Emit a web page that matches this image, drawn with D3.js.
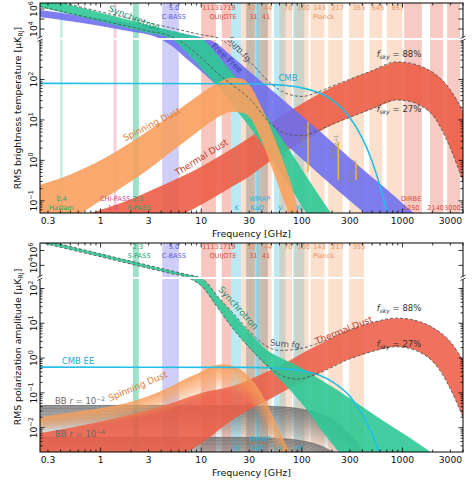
<!DOCTYPE html>
<html><head><meta charset="utf-8">
<script src="https://cdn.jsdelivr.net/npm/d3@7"></script>
<style>body{margin:0;background:#fff}svg{display:block}text{font-family:"DejaVu Sans",sans-serif}</style>
</head><body><svg id="c" width="474" height="481"></svg>
<script>
// ---------------- DATA ----------------
const xTickLabels = [0.3, 1, 3, 10, 30, 100, 300, 1000, 3000];

// observation bands [GHz]
const planckLo = [25, 39, 60, 85, 122, 183, 295, 470, 700];
const planckHi = [35, 50, 80, 117, 168, 255, 415, 630, 1000];
const planckLabels = ["30", "44", "70", "100", "143", "217", "353", "545", "857"];
const planckFreq = [30, 44, 70, 100, 143, 217, 353, 545, 857];
const wmapLo = [20, 28, 35, 53, 82];
const wmapHi = [25, 37, 46, 69, 106];
const quijoteLo = [10, 12, 16, 18, 28, 36];
const quijoteHi = [12, 14, 18, 20, 34, 46];
const dirbeLo = [1040, 1880, 2780];
const dirbeHi = [1560, 2540, 3740];
const dirbeFreq = [1250, 2140, 3000];
const spassBand = [2.1, 2.4];
const cbassBand = [4.1, 6.0];
const chipassBand = [1.35, 1.44];
const haslamBand = [0.398, 0.418];

// ---- temperature (top) ----
const syncTFreq = [0.25, 0.5, 1, 2, 3, 5, 7, 10, 15, 20, 24, 30, 40, 50, 70, 100, 120, 150, 200];
const syncTHi = [1.4e7, 2.5e6, 4.2e5, 7.1e4, 2.5e4, 6.9e3, 2.95e3, 1.17e3, 360, 150, 90, 45, 18, 8, 2.4, 0.6, 0.3, 0.13, 0.045];
const syncTLo = [1.6e6, 3e5, 5.6e4, 1.07e4, 4.1e3, 1.2e3, 490, 190, 61, 27, 14, 7, 2.6, 1.1, 0.3, 0.075, 0.035, 0.015, 0.004];

const ffTFreq = [0.25, 0.5, 1, 2, 3.6, 5, 7, 10, 14, 20, 30, 50, 70, 100, 150, 200, 300, 500, 700, 1000, 1500];
const ffTHi = [7.9e5, 3e5, 1.1e5, 3.8e4, 1.26e4, 6.5e3, 3.2e3, 1.5e3, 800, 380, 160, 55, 27, 12.5, 5.3, 2.8, 1.15, 0.38, 0.19, 0.087, 0.036];
const ffTLo = [1.6e5, 6e4, 2e4, 5.5e3, 1.5e3, 700, 340, 160, 75, 35, 15, 5, 2.4, 1.1, 0.45, 0.24, 0.1, 0.034, 0.016, 0.007, 0.003];

const sdTFreq = [0.25, 0.5, 1, 2, 3, 5, 7, 10, 15, 20, 25, 30, 40, 50, 60, 70, 80, 90, 100];
const sdTHi = [0.25, 0.45, 1.0, 2.8, 5.5, 13, 24, 45, 85, 110, 105, 75, 20, 5.5, 1.7, 0.6, 0.22, 0.07, 0.025];
const sdTLo = [0.02, 0.035, 0.1, 0.3, 0.6, 1.6, 3, 6, 12, 16, 15, 12, 3, 0.7, 0.2, 0.07, 0.025, 0.008, 0.003];

const tdFreq = [0.25, 0.5, 1, 2, 3, 5, 10, 20, 30, 50, 70, 100, 150, 200, 300, 400, 500, 700, 857, 1000, 1300, 1500, 2000, 2500, 3000, 3500, 4000];
const tdTHi = [0.02, 0.035, 0.06, 0.11, 0.17, 0.3, 0.7, 1.9, 3.6, 8.5, 15, 25, 45, 65, 100, 135, 165, 230, 270, 268, 240, 215, 150, 95, 55, 30, 16];
const tdTLo = [0.0015, 0.003, 0.006, 0.012, 0.018, 0.033, 0.08, 0.22, 0.4, 1.0, 1.7, 2.9, 5.2, 7.5, 11.5, 15, 19, 26, 31, 30.5, 27, 23, 13, 5.5, 2, 0.75, 0.3];

const cmbTFreq = [0.25, 30, 50, 70, 100, 150, 200, 300, 400, 500, 600, 700];
const cmbT = [80, 78, 75, 71, 62, 46, 31, 11.5, 3.5, 0.94, 0.23, 0.055];

const sumTFreq = [0.25, 0.5, 1, 2, 3, 5, 10, 15, 20, 30, 50, 70, 100, 150, 200, 300, 500, 857, 1000, 1500, 2000, 3000, 4000];
const sumTHi = [1.5e7, 2.8e6, 5.3e5, 1.1e5, 4.2e4, 1.34e4, 2.7e3, 1.2e3, 640, 284, 77, 45, 38, 50.5, 68, 101, 165, 270, 268, 215, 150, 55, 16];
const sumTLo = [1.76e6, 3.6e5, 7.6e4, 1.6e4, 6.2e3, 1.9e3, 346, 132, 76, 34, 7.8, 4.5, 4.1, 5.7, 7.8, 11.6, 19, 31, 30.5, 23, 13, 2, 0.3];

const coFreq = [115.27, 230.54, 345.8];
const coTop = [9, 2.9, 0.86];
const coBot = [0.52, 0.33, 0.33];
const coLabels = ["1\u21920", "2\u21921", "3\u21922"];

// ---- polarization (bottom) ----
const syncPFreq = [0.25, 0.5, 1, 2, 3, 5, 7, 10, 15, 20, 30, 43, 60, 90, 120, 150, 200, 250, 300, 600, 1000, 1900, 2500];
const syncPHi = [3.1e7, 3.3e6, 3.5e5, 3.7e4, 9.9e3, 1.9e3, 640, 200, 53, 21, 5.5, 1.9, 1.05, 0.6, 0.38, 0.25, 0.15, 0.1, 0.07, 0.018, 0.007, 0.002, 0.0011];
const syncPLo = [1.2e7, 1.3e6, 1.4e5, 1.5e4, 4e3, 800, 280, 120, 25, 8, 2.0, 0.65, 0.25, 0.07, 0.025, 0.01, 0.0035, 0.0015, 0.0008, 0.0001, 0.00005, 0.00002, 0.00001];

const sdPFreq = [0.25, 0.5, 1, 2, 3, 5, 7, 10, 13, 17, 20, 25, 30, 40, 50, 60, 70, 80];
const sdPHi = [0.02, 0.027, 0.036, 0.055, 0.08, 0.15, 0.25, 0.4, 0.58, 0.65, 0.6, 0.45, 0.28, 0.09, 0.025, 0.008, 0.003, 0.0012];
const sdPLo = [0.008, 0.01, 0.012, 0.016, 0.02, 0.03, 0.045, 0.065, 0.09, 0.1, 0.09, 0.07, 0.045, 0.014, 0.004, 0.0013, 0.0005, 0.0002];

const tdPHi = [0.007, 0.01, 0.015, 0.024, 0.032, 0.05, 0.1, 0.155, 0.24, 0.47, 0.75, 1.35, 2.5, 3.8, 6.5, 8.5, 10.5, 13, 14, 13.8, 12.5, 11, 7.5, 4.8, 2.9, 1.6, 0.85];
const tdPLo = [0.0002, 0.0003, 0.0004, 0.0006, 0.0008, 0.0012, 0.0035, 0.016, 0.033, 0.07, 0.12, 0.2, 0.37, 0.56, 0.95, 1.25, 1.55, 1.95, 2.1, 2.05, 1.75, 1.45, 0.8, 0.35, 0.13, 0.05, 0.02];

const cmbPFreq = [0.25, 30, 50, 70, 100, 150, 200, 300, 400, 500, 600, 650];
const cmbP = [0.55, 0.54, 0.52, 0.49, 0.43, 0.32, 0.21, 0.08, 0.024, 0.0064, 0.0016, 0.0008];

const bbFreq = [0.25, 30, 70, 100, 150, 200, 300, 400, 500];
const bb2Hi = [0.045, 0.044, 0.04, 0.035, 0.026, 0.0175, 0.0065, 0.002, 0.0005];
const bb2Lo = [0.0045, 0.0044, 0.004, 0.0035, 0.0026, 0.00175, 0.00065, 0.0002, 0.00005];
const bb4Hi = [0.0055, 0.0054, 0.0049, 0.0043, 0.0032, 0.0021, 0.0008, 0.00025, 0.00006];
const bb4Lo = [0.0006, 0.0006, 0.0005, 0.0005, 0.0004, 0.0003, 0.0001, 0.00003, 0.00001];

const sumPFreq = [0.25, 0.5, 1, 2, 3, 5, 7, 10, 15, 20, 30, 43, 60, 90, 150, 300, 500, 857, 1000, 1500, 2000, 3000, 4000];
const sumPHi = [3.1e7, 3.3e6, 3.5e5, 3.7e4, 9.9e3, 1.9e3, 640, 200.5, 54, 22, 6.0, 2.35, 1.66, 1.8, 2.75, 6.57, 10.5, 14, 13.8, 11, 7.5, 2.9, 0.85];
const sumPLo = [1.2e7, 1.3e6, 1.4e5, 1.5e4, 4e3, 800, 280, 120, 25, 8, 2.03, 0.71, 0.34, 0.25, 0.38, 0.95, 1.55, 2.1, 2.05, 1.45, 0.8, 0.13, 0.02];

// ---------------- DRAWING ----------------
const svg = d3.select("#c");
const X0 = 40, X1 = 463;
const x = d3.scaleLog().domain([0.25, 4000]).range([X0, X1]);

function makeY(lowDom, lowRange, upDom, upRange) {
  const lo = d3.scaleLog().domain(lowDom).range(lowRange);
  const up = d3.scaleLog().domain(upDom).range(upRange);
  const brk = lowDom[1];
  const f = v => (v >= brk ? up(v) : lo(v));
  f.lo = lo; f.up = up; f.brk = brk; f.brkY = lowRange[1];
  return f;
}

const C = {
  sync: "#2fc896", ff: "#6c6cef", sd: "#f8a05e", td: "#ec5e47", cmb: "#22bfe6", co: "#f2b331",
  syncTxt: "#1b8f6c", ffTxt: "#3c3cb0", sdTxt: "#dd7a33", tdTxt: "#c7392a", sumTxt: "#4f4f60", cmbTxt: "#1aa8d4"
};

function mkBands(pol) {
  const b = [];
  if (!pol) b.push({lo: haslamBand[0], hi: haslamBand[1], c: "#7fd8c4", o: 0.55});
  if (!pol) b.push({lo: chipassBand[0], hi: chipassBand[1], c: "#ee8fb2", o: 0.45});
  b.push({lo: spassBand[0], hi: spassBand[1], c: "#3cc592", o: 0.5});
  b.push({lo: cbassBand[0], hi: cbassBand[1], c: "#7474ee", o: 0.35});
  quijoteLo.forEach((l, i) => b.push({lo: l, hi: quijoteHi[i], c: "#e8604c", o: 0.36}));
  wmapLo.forEach((l, i) => b.push({lo: l, hi: wmapHi[i], c: "#4cc9e6", o: 0.38}));
  planckLo.forEach((l, i) => { if (!pol || planckFreq[i] <= 353) b.push({lo: l, hi: planckHi[i], c: "#f7a06a", o: 0.33}); });
  if (!pol) dirbeLo.forEach((l, i) => b.push({lo: l, hi: dirbeHi[i], c: "#e8604c", o: 0.33}));
  return b;
}

function rows(f, a, b) { return f.map((v, i) => ({f: v, a: a[i], b: b ? b[i] : null})); }

function area(g, y, f, hi, lo, color, op) {
  g.append("path").datum(rows(f, hi, lo))
    .attr("d", d3.area().x(d => x(d.f)).y0(d => y(d.b)).y1(d => y(d.a)).curve(d3.curveMonotoneX))
    .attr("fill", color).attr("fill-opacity", op);
}
function fade(g, y, f, hi, lo, color, n, op0) {
  for (let i = 0; i < n; i++) {
    const t0 = i / n, t1 = (i + 1) / n;
    const d = f.map((v, k) => ({
      f: v,
      a: Math.exp(Math.log(hi[k]) * (1 - t0) + Math.log(lo[k]) * t0),
      b: Math.exp(Math.log(hi[k]) * (1 - t1) + Math.log(lo[k]) * t1)
    }));
    g.append("path").datum(d)
      .attr("d", d3.area().x(e => x(e.f)).y0(e => y(e.b)).y1(e => y(e.a)).curve(d3.curveMonotoneX))
      .attr("fill", color).attr("fill-opacity", op0 * (1 - i / n)).attr("stroke", color).attr("stroke-opacity", op0 * (1 - i / n) * 0.4).attr("stroke-width", 0.3);
  }
}
function line(g, y, f, v, color, w, dash) {
  const p = g.append("path").datum(rows(f, v))
    .attr("d", d3.line().x(d => x(d.f)).y(d => y(d.a)).curve(d3.curveMonotoneX))
    .attr("fill", "none").attr("stroke", color).attr("stroke-width", w);
  if (dash) p.attr("stroke-dasharray", dash);
}
function txt(g, s, px, py, opt) {
  opt = opt || {};
  const t = g.append("text").attr("x", px).attr("y", py)
    .attr("font-size", opt.size || 7).attr("fill", opt.color || "#000")
    .attr("text-anchor", opt.anchor || "middle").text(s);
  if (opt.rot) t.attr("transform", `rotate(${opt.rot},${px},${py})`);
  return t;
}
function fsky(g, px, py, pct) {
  const t = g.append("text").attr("x", px).attr("y", py).attr("font-size", 8.5).attr("fill", "#333").attr("text-anchor", "middle");
  t.append("tspan").attr("font-style", "italic").text("f");
  t.append("tspan").attr("font-style", "italic").attr("font-size", 6).attr("dy", 2).text("sky");
  t.append("tspan").attr("dy", -2).text(" = " + pct);
}

function axes(g, y, top, bottom, lowDec, upMajors, labelsLow, labelsUp) {
  g.append("rect").attr("x", X0).attr("y", top).attr("width", X1 - X0).attr("height", bottom - top)
    .attr("fill", "none").attr("stroke", "#000").attr("stroke-width", 1);
  for (let e = -1; e <= 3; e++) for (let m = 1; m <= 9; m++) {
    const v = m * Math.pow(10, e);
    if (v < 0.25 || v > 4000) continue;
    const L = m === 1 ? 4.5 : 2.5, px = x(v);
    g.append("line").attr("x1", px).attr("x2", px).attr("y1", bottom).attr("y2", bottom - L).attr("stroke", "#000").attr("stroke-width", 0.8);
    g.append("line").attr("x1", px).attr("x2", px).attr("y1", top).attr("y2", top + L).attr("stroke", "#000").attr("stroke-width", 0.8);
  }
  xTickLabels.forEach(v => txt(g, String(v), x(v), bottom + 10.5, {size: 9.2, color: "#111"}));
  txt(g, "Frequency [GHz]", (X0 + X1) / 2, bottom + 23.5, {size: 9.5, color: "#111"});
  for (let e = lowDec[0]; e <= lowDec[1]; e++) for (let m = 1; m <= 9; m++) {
    const v = m * Math.pow(10, e);
    const d = y.lo.domain();
    if (v <= d[0] || v >= d[1]) continue;
    const L = m === 1 ? 4.5 : 2.5, py = y(v);
    g.append("line").attr("x1", X0).attr("x2", X0 + L).attr("y1", py).attr("y2", py).attr("stroke", "#000").attr("stroke-width", 0.8);
    g.append("line").attr("x1", X1).attr("x2", X1 - L).attr("y1", py).attr("y2", py).attr("stroke", "#000").attr("stroke-width", 0.8);
  }
  upMajors.forEach(v => {
    const py = y(v);
    g.append("line").attr("x1", X0).attr("x2", X0 + 4.5).attr("y1", py).attr("y2", py).attr("stroke", "#000").attr("stroke-width", 0.8);
    g.append("line").attr("x1", X1).attr("x2", X1 - 4.5).attr("y1", py).attr("y2", py).attr("stroke", "#000").attr("stroke-width", 0.8);
  });
  const ylab = (v, exp) => {
    const py = y(v);
    const t = g.append("text").attr("transform", `translate(37,${py}) rotate(-90)`).attr("text-anchor", "middle")
      .attr("font-size", 9.2).attr("fill", "#111");
    t.append("tspan").text("10");
    t.append("tspan").attr("dy", -4).attr("font-size", 6.5).text(exp);
  };
  labelsLow.forEach(e => ylab(Math.pow(10, e), e < 0 ? "\u2212" + (-e) : String(e)));
  labelsUp.forEach(e => ylab(Math.pow(10, e), String(e)));
  const by = y.brkY;
  g.append("line").attr("x1", X0).attr("x2", X1).attr("y1", by).attr("y2", by).attr("stroke", "#fff").attr("stroke-width", 2.2);
  [X0, X1].forEach(bx => {
    g.append("rect").attr("x", bx - 2).attr("y", by - 1.5).attr("width", 4).attr("height", 3).attr("fill", "#fff");
    g.append("line").attr("x1", bx - 2.5).attr("x2", bx + 2.5).attr("y1", by - 0.5).attr("y2", by - 3).attr("stroke", "#000").attr("stroke-width", 0.7);
    g.append("line").attr("x1", bx - 2.5).attr("x2", bx + 2.5).attr("y1", by + 2.5).attr("y2", by).attr("stroke", "#000").attr("stroke-width", 0.7);
  });
}

function bandLabels(g, pol, yT1, yT2, yB1, yB2) {
  const s = 6.6;
  const cP = "#e8915a", cQ = "#dc4a3c", cW = "#26b3da", cS = "#24a470", cC = "#5a5adc";
  txt(g, "2.3", x(2.3) + 1, pol ? yT1 : yB1, {size: s, color: cS});
  txt(g, "S-PASS", x(2.3) + 2, pol ? yT2 : yB2, {size: s, color: cS});
  txt(g, "5.0", x(5) + 3, yT1, {size: s, color: cC});
  txt(g, "C-BASS", x(5) + 3, yT2, {size: s, color: cC});
  txt(g, "11131719", x(15), yT1, {size: s, color: cQ});
  txt(g, "QUIJOTE", x(16.5), yT2, {size: s, color: cQ});
  planckFreq.forEach((f, i) => { if (!pol || f <= 353) txt(g, planckLabels[i], x(f) + 2, yT1, {size: s, color: cP}); });
  txt(g, "31", x(33), yT2, {size: s, color: cQ});
  txt(g, "41", x(44), yT2, {size: s, color: cQ});
  txt(g, "Planck", x(165), yT2, {size: s, color: cP});
  txt(g, "WMAP", x(38), yB1, {size: s, color: cW});
  txt(g, "K", x(22.5), yB2, {size: s, color: cW});
  txt(g, "KaQ", x(36), yB2, {size: s, color: cW});
  txt(g, "V", x(61), yB2, {size: s, color: cW});
  txt(g, "W", x(94), yB2, {size: s, color: cW});
  if (!pol) {
    txt(g, "0.4", x(0.408), yB1, {size: s, color: cS});
    txt(g, "Haslam", x(0.408), yB2, {size: s, color: cS});
    txt(g, "CHI-PASS", x(1.395), yB1, {size: s, color: "#d6478a"});
    txt(g, "1.4", x(1.395) - 2, yB2, {size: s, color: "#d6478a"});
    txt(g, "DIRBE", x(1250) - 1, yB1, {size: s, color: "#d8473a"});
    dirbeFreq.forEach(f => txt(g, String(f), x(f) + (f === 1250 ? -1 : f === 3000 ? 2 : 0), yB2, {size: s, color: "#d8473a"}));
  }
}

// ---------- TOP PANEL ----------
(function () {
  const top = 3, bottom = 213;
  const y = makeY([0.05, 1000], [bottom, 39], [1000, 4e6], [39, top]);
  svg.append("clipPath").attr("id", "cp1").append("rect").attr("x", X0).attr("y", top).attr("width", X1 - X0).attr("height", bottom - top);
  const g = svg.append("g");
  const p = g.append("g").attr("clip-path", "url(#cp1)");
  mkBands(false).forEach(b => p.append("rect").attr("x", x(b.lo)).attr("width", x(b.hi) - x(b.lo)).attr("y", top).attr("height", bottom - top).attr("fill", b.c).attr("fill-opacity", b.o));
  area(p, y, tdFreq, tdTHi, tdTLo, C.td, 0.9);
  area(p, y, ffTFreq, ffTHi, ffTLo, C.ff, 0.88);
  area(p, y, syncTFreq, syncTHi, syncTLo, C.sync, 0.9);
  area(p, y, sdTFreq, sdTHi, sdTLo, C.sd, 0.9);
  line(p, y, cmbTFreq, cmbT, C.cmb, 1.6);
  coFreq.forEach((f, i) => {
    p.append("line").attr("x1", x(f)).attr("x2", x(f)).attr("y1", y(coTop[i])).attr("y2", y(coBot[i])).attr("stroke", C.co).attr("stroke-width", 1.6);
  });
  line(p, y, sumTFreq, sumTHi, "#555", 0.9, "3,2");
  line(p, y, sumTFreq, sumTLo, "#555", 0.9, "3,2");
  bandLabels(g, false, 10, 19, 201, 209.5);
  txt(g, "Synchrotron", 133, 21, {size: 9, color: C.syncTxt, rot: 22});
  txt(g, "Free-Free", 225, 60, {size: 8.5, color: C.ffTxt, rot: 43});
  txt(g, "Sum fg.", 238, 52, {size: 8.5, color: C.sumTxt, rot: 48});
  txt(g, "Spinning Dust", 153, 127, {size: 9, color: C.sdTxt, rot: -27});
  txt(g, "Thermal Dust", 203, 160, {size: 9, color: C.tdTxt, rot: -32});
  txt(g, "CMB", 288, 81, {size: 8.5, color: C.cmbTxt});
  fsky(g, 399, 57, "88%");
  fsky(g, 399, 112, "27%");
  coFreq.forEach((f, i) => {
    const cx = x(f) - 2, cy = [136, 146, 171][i];
    const t = g.append("text").attr("transform", `translate(${cx},${cy}) rotate(-90)`).attr("text-anchor", "middle").attr("font-size", 7.5).attr("fill", "#8a8a80");
    t.append("tspan").text("CO");
    t.append("tspan").attr("font-size", 5.5).attr("dy", 1.5).text(coLabels[i]);
  });
  axes(g, y, top, bottom, [-2, 2], [1e4, 1e5, 1e6], [-1, 0, 1, 2], [4, 6]);
  const t = g.append("text").attr("transform", `translate(21,108) rotate(-90)`).attr("text-anchor", "middle").attr("font-size", 9.3).attr("fill", "#111");
  t.append("tspan").text("RMS brightness temperature [\u03bcK");
  t.append("tspan").attr("font-size", 6.5).attr("dy", 2).text("RJ");
  t.append("tspan").attr("dy", -2).text("]");
})();

// ---------- BOTTOM PANEL ----------
(function () {
  const top = 243, bottom = 452;
  const y = makeY([0.002, 200], [bottom, 278], [200, 1e7], [278, top]);
  svg.append("clipPath").attr("id", "cp2").append("rect").attr("x", X0).attr("y", top).attr("width", X1 - X0).attr("height", bottom - top);
  const g = svg.append("g");
  const p = g.append("g").attr("clip-path", "url(#cp2)");
  mkBands(true).forEach(b => p.append("rect").attr("x", x(b.lo)).attr("width", x(b.hi) - x(b.lo)).attr("y", top).attr("height", bottom - top).attr("fill", b.c).attr("fill-opacity", b.o));
  fade(p, y, bbFreq, bb2Hi, bb2Lo, "#6e6e6e", 24, 0.85);
  fade(p, y, bbFreq, bb4Hi, bb4Lo, "#6e6e6e", 24, 0.85);
  area(p, y, tdFreq, tdPHi, tdPLo, C.td, 0.88);
  fade(p, y, sdPFreq, sdPHi, sdPLo, C.sd, 24, 1.0);
  area(p, y, syncPFreq, syncPHi, syncPLo, C.sync, 0.9);
  line(p, y, cmbPFreq, cmbP, C.cmb, 1.6);
  line(p, y, sumPFreq, sumPHi, "#555", 0.9, "3,2");
  line(p, y, sumPFreq, sumPLo, "#555", 0.9, "3,2");
  bandLabels(g, true, 249, 258, 441, 450);
  txt(g, "Synchrotron", 236, 310, {size: 9, color: C.syncTxt, rot: 48});
  txt(g, "Sum fg.", 286, 347, {size: 8.5, color: C.sumTxt, rot: 6});
  txt(g, "Thermal Dust", 345, 333, {size: 9, color: C.tdTxt, rot: -22});
  txt(g, "Spinning Dust", 139, 389, {size: 9, color: C.sdTxt, rot: -23});
  txt(g, "CMB EE", 78, 364, {size: 8.5, color: C.cmbTxt});
  const bb = (py, e) => {
    const t = g.append("text").attr("x", 55).attr("y", py).attr("font-size", 8.5).attr("fill", "#6a6a6a");
    t.append("tspan").text("BB ");
    t.append("tspan").attr("font-style", "italic").text("r");
    t.append("tspan").text(" = 10");
    t.append("tspan").attr("dy", -3.5).attr("font-size", 6).text(e);
  };
  bb(404, "\u22122");
  bb(437, "\u22124");
  fsky(g, 399, 311, "88%");
  fsky(g, 399, 347, "27%");
  axes(g, y, top, bottom, [-3, 2], [1e4, 1e6], [-2, -1, 0, 1, 2], [4, 6]);
  const t = g.append("text").attr("transform", `translate(21,347) rotate(-90)`).attr("text-anchor", "middle").attr("font-size", 9.3).attr("fill", "#111");
  t.append("tspan").text("RMS polarization amplitude [\u03bcK");
  t.append("tspan").attr("font-size", 6.5).attr("dy", 2).text("RJ");
  t.append("tspan").attr("dy", -2).text("]");
})();
</script></body></html>
